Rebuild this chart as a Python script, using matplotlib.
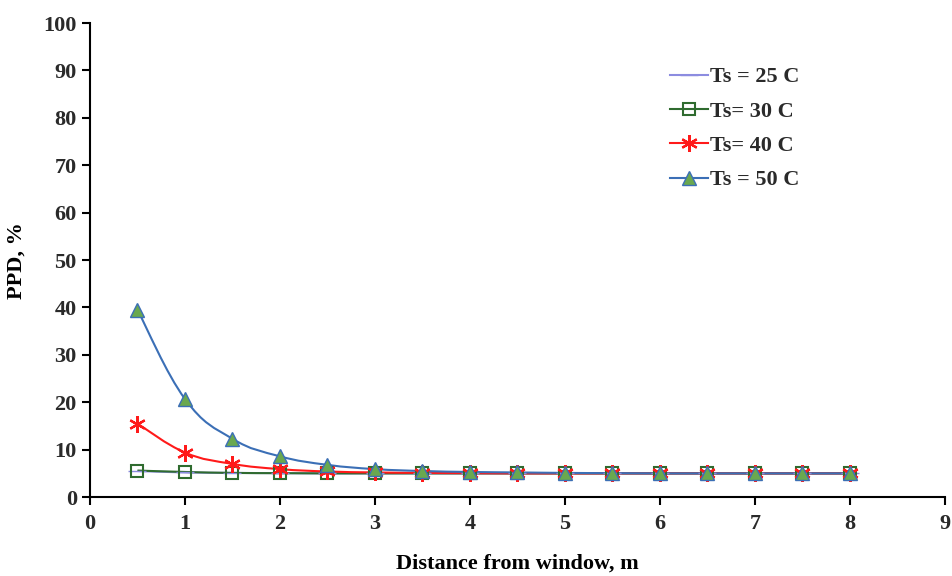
import numpy as np
import matplotlib
matplotlib.use('Agg')
import matplotlib.pyplot as plt
from matplotlib.path import Path
from matplotlib.patches import PathPatch

distance = [0.5, 1, 1.5, 2, 2.5, 3, 3.5, 4, 4.5, 5, 5.5, 6, 6.5, 7, 7.5, 8]
ppd_25 = [5.5, 5.2, 5.1, 5.05, 5.0, 5.0, 5.0, 5.0, 5.0, 5.0, 5.0, 5.0, 5.0, 5.0, 5.0, 5.0]
ppd_30 = [5.6, 5.3, 5.1, 5.05, 5.0, 5.0, 5.0, 5.0, 5.0, 5.0, 5.0, 5.0, 5.0, 5.0, 5.0, 5.0]
ppd_40 = [15.5, 9.4, 7.0, 5.9, 5.4, 5.2, 5.1, 5.05, 5.0, 5.0, 5.0, 5.0, 5.0, 5.0, 5.0, 5.0]
ppd_50 = [39.5, 20.7, 12.3, 8.6, 6.8, 5.9, 5.5, 5.3, 5.2, 5.1, 5.05, 5.0, 5.0, 5.0, 5.0, 5.0]

plt.rcParams['font.family'] = 'Liberation Serif'
plt.rcParams['font.weight'] = 'bold'
plt.rcParams['text.color'] = '#2a2a2a'
plt.rcParams['xtick.labelcolor'] = '#2a2a2a'
plt.rcParams['ytick.labelcolor'] = '#2a2a2a'

fig = plt.figure(figsize=(9.52, 5.76), dpi=100)
ax = fig.add_axes([0.0945, 0.137, 0.898, 0.823])


def smooth_line(ax, x, y, color, lw=1.5, k=0.2):
    # bezier through the points, similar to excel's smoothed lines
    x = np.asarray(x, float)
    y = np.asarray(y, float)
    verts = [(x[0], y[0])]
    codes = [Path.MOVETO]
    n = len(x)
    for i in range(n - 1):
        x0, y0 = (x[i - 1], y[i - 1]) if i > 0 else (x[i], y[i])
        x3, y3 = (x[i + 2], y[i + 2]) if i + 2 < n else (x[i + 1], y[i + 1])
        c1 = (x[i] + (x[i + 1] - x0) * k, y[i] + (y[i + 1] - y0) * k)
        c2 = (x[i + 1] - (x3 - x[i]) * k, y[i + 1] - (y3 - y[i]) * k)
        verts += [c1, c2, (x[i + 1], y[i + 1])]
        codes += [Path.CURVE4] * 3
    ax.add_patch(PathPatch(Path(verts, codes), fill=False, edgecolor=color, lw=lw))


series = [
    ('Ts = 25 C', ppd_25, '#8c8ce0', dict(marker='_', ms=13, mec='#8c8ce0', mfc='none')),
    ('Ts= 30 C', ppd_30, '#2f6b2f', dict(marker='s', ms=9, mec='#2f6b2f', mfc='none', mew=1.5)),
    ('Ts= 40 C', ppd_40, '#ff1a1a', dict(marker=(6, 2, 0), ms=12, mec='#ff1a1a', mew=1.6)),
    ('Ts = 50 C', ppd_50, '#3b6fb6', dict(marker='^', ms=10, mec='#3b6fb6', mfc='#6aa84f')),
]

for name, vals, col, mk in series:
    smooth_line(ax, distance, vals, col)
    ax.plot(distance, vals, ls='none', **mk)
    ax.plot([], [], color=col, lw=1.5, label=name, **mk)

ax.set_xlim(0, 9)
ax.set_ylim(0, 100)
ax.set_xticks(range(0, 10))
ax.set_yticks(range(0, 101, 10))
for s in ['top', 'right']:
    ax.spines[s].set_visible(False)
for s in ['left', 'bottom']:
    ax.spines[s].set_linewidth(1.5)
ax.tick_params(width=1.5, length=6, labelsize=16)
ax.tick_params(axis='x', pad=6)
ax.set_xlabel('Distance from window, m', fontsize=16, fontweight='bold', labelpad=14)
ax.set_ylabel('PPD, %', fontsize=16, fontweight='bold', labelpad=12)

ax.legend(loc='upper left', bbox_to_anchor=(0.655, 0.95), frameon=False,
          fontsize=16, handlelength=1.7, handletextpad=0.1, labelspacing=0.62)

fig.savefig('out.png', dpi=100)
